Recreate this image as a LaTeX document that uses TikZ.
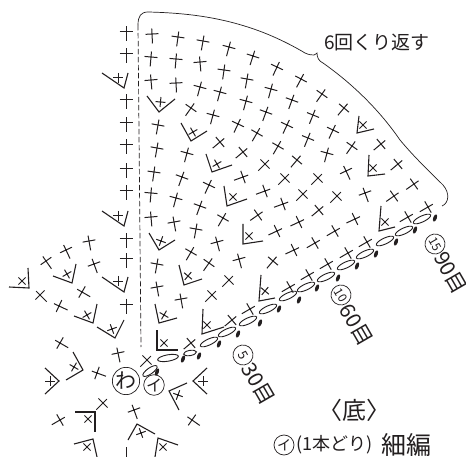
\documentclass[tikz,border=0pt]{standalone}
\usepackage{fontspec}
\setmainfont{Noto Sans CJK JP}
\definecolor{ink}{HTML}{231F20}
\newcommand\plm[3]{\begin{scope}[shift={(#1,#2)},rotate={0-(#3)}]\draw[stitch] (-6.5,0)--(6.5,0) (0,-5.5)--(0,9.5);\end{scope}}
\newcommand\smallx[3]{\begin{scope}[shift={(#1,#2)},rotate={0-(#3)}]\draw[stitch] (-5,0)--(5,0) (0,-5)--(0,5);\end{scope}}
\newcommand\fs[1]{\fontsize{#1}{#1}\selectfont}
\tikzset{
  stitch/.style={line width=1pt,draw=ink},
  vee/.style={line width=1.1pt,draw=ink,line join=miter},
  chainoval/.style={line width=0.9pt,draw=ink},
  knot/.style={fill=ink,draw=none},
  lab/.style={text=ink,inner sep=0pt,font=\fs{19}},
  ring/.style={circle,draw=ink,line width=0.7pt,inner sep=0pt,text=ink}
}
\begin{document}
\begin{tikzpicture}[x=1pt,y=-1pt]
\path[use as bounding box,fill=white] (0,0) rectangle (466,457);
% repeat bracket
\draw[line width=0.7pt,draw=ink] (138,25) .. controls (138,16) and (141,12) .. (148,12)
  .. controls (190,13) and (225,18) .. (262,32)
  .. controls (280,39) and (295,47) .. (305,53)
  .. controls (309,55) and (312,55) .. (314,55)
  .. controls (316,55) and (316,53) .. (317,53)
  .. controls (317,58) and (319,61) .. (323,63)
  .. controls (350,82) and (378,108) .. (400,140)
  .. controls (415,158) and (430,172) .. (443,185)
  .. controls (450,193) and (449,203) .. (442,206);
% dashed centre line
\coordinate (dashtop) at (138,25);
\coordinate (dashend) at (141,347);
\draw[line width=0.7pt,draw=ink,dash pattern=on 5.5pt off 2.5pt] (dashtop) -- (dashend);
% plain stitches
\foreach \x/\y in {126/32,126/54,126/100,126/123,126/145,126/169,126/191,126/239,126/259,126/304}{\plm{\x}{\y}{0}}
\foreach \x/\y/\r in {
152/34/-3,151/57/5,151/80/-5,158/125/10,157/148/10,154/172/8,151/193/5,151/217/-5,157/264/10,157/287/-10,
178/37/8,176/59/5,176/83/-3,191/108/35,187/153/15,182/177/20,176/198/15,174/222/-10,
203/41/10,229/47/15,253/56/18,277/67/25,301/79/28,322/94/35,344/108/40,
200/62/-5,224/70/8,247/79/10,271/89/15,292/100/20,313/115/22,333/130/25,
200/87/15,220/92/15,246/101/15,266/112/20,287/125/25,308/138/22,327/153/15,
213/115/15,238/124/25,257/133/30,278/146/30,297/160/40,318/178/45,352/146/35,381/144/50,
220/142/50,243/152/50,265/164/45,285/178/45,303/194/45,319/210/50,346/171/-25,398/164/50,
209/185/25,243/177/70,265/191/70,283/204/70,299/222/65,315/243/60,337/196/45,365/193/-20,
200/206/20,223/218/30,258/215/55,277/231/65,294/250/65,335/231/60,355/219/65,394/196/55,414/184/55,
196/229/10,217/242/-15,239/259/-15,273/261/40,191/252/30,209/263/35,229/280/45,212/295/45,181/299/-10,
147/360/45,191/343/50,232/320/50,250/309/60,290/287/60,309/275/60,328/264/60,348/253/60,367/242/60,408/217/60,428/207/60,
89/241/-10,66/250/-25,46/261/-35,94/264/-20,40/295/-45,82/292/-60,59/306/-65,60/343/-60,118/353/-12,97/373/-70,
103/403/45,134/410/-20,60/420/60,192/420/-55}{\plm{\x}{\y}{\r}}
% increase stitches
\foreach \vx/\vy/\ax/\ay/\bx/\by/\cx/\cy/\r in {
124/88/102/73/128/73/118/78/0,
124/226/102/211/128/211/118/216/0,
124/292/102/277/128/277/118/281/0,
159/112/147/96/175/99/160.5/102/5,
191/141/181/123/207/131/193/132/60,
212/172/206/154/232/165/217/164/60,
227/206/224/186/247/199/233/197/45,
243/244/243/224/263/241/249/236/45,
184/285/179/265/202/279/188/276/40,
159/250/149/233/175/240/161/241/20,
159/323/155/304/177/318/164/315/30,
157/350/157/330/178/350/164/343/45,
202/334/203/309/224/327/207/325/45,
259/301/261/275/275/298/265/291/40,
357/133/359/116/374/129/363/125/45,
368/176/369/155/385/174/373/168/45,
379/231/381/206/395/227/385/222/45,
29/288/28/268/9/287/22/281/-45,
72/283/76/264/53/276/67/274/-30,
93/323/97/304/74/316/87/315/-30,
115/338/124/320/97/327/112/329/-20,
83/370/73/352/66/380/74/367/-60,
59/381/45/368/45/394/50/381/0,
95/412/75/412/95/432/88/419/-45,
93/439/74/444/97/457/87/447/-45,
137/424/128/440/155/434/141/433/-20,
158/438/155/457/178/445/163/447/-45,
169/391/187/383/179/410/178/395/-70,
193/381/207/368/207/394/203/381/0}{
  \draw[vee] (\ax,\ay)--(\vx,\vy)--(\bx,\by);
  \smallx{\cx}{\cy}{\r}
}
% lone stem at the lower edge
\coordinate (stema) at (126,447);
\coordinate (stemb) at (126,457);
\draw[stitch] (stema)--(stemb);
% chain row
\foreach \x/\y/\r/\a/\b in {
150/371/35/8.5/3,168/358/10/10.5/3.2,190/353/10/6.5/2.6,209/342/25/9.5/3,227/332/25/9.5/3,
248/321/25/9.5/3,268/309/25/9.5/3,288/296/25/9.5/3,306/287/25/9.5/3,326/277/25/9.5/3,
346/265/25/9.5/3,365/254/25/9.5/3,385/241/25/9.5/3,404/231/25/9.5/3,422/219/25/9.5/3}{
  \draw[chainoval,rotate around={\r:(\x,\y)}] (\x,\y) ellipse [x radius=\a,y radius=\b];
}
\foreach \x/\y in {157/372,183/359,199/356,219/344,238/334,260/323,279/309,299/300,317/288,338/278,357/266,376/254,396/242,415/230,435/218}{
  \fill[knot,rotate around={70:(\x,\y)}] (\x,\y) ellipse [x radius=3.8,y radius=1.8];
}
% centre rings
\node[ring,minimum size=27pt,font=\fs{21}] (wa) at (126,381) {わ};
\node[ring,minimum size=19.5pt,font=\fs{16}] (iro) at (154,385) {イ};
% labels
\node[lab,anchor=west] (rep) at (324,43) {6回くり返す};
\node[ring,rotate=-60,minimum size=20pt,font=\fs{12}] (c15) at (435,244) {15};
\node[lab,rotate=-60,font=\fs{21}] (t90) at (450.5,273) {90目};
\node[ring,rotate=-60,minimum size=20pt,font=\fs{12}] (c10) at (341,295) {10};
\node[lab,rotate=-60,font=\fs{21}] (t60) at (356,325) {60目};
\node[ring,rotate=-60,minimum size=20pt,font=\fs{13}] (c5) at (243,355) {5};
\node[lab,rotate=-60,font=\fs{21}] (t30) at (258,384) {30目};
\node[lab,font=\fs{24}] (soko) at (354,410) {〈底〉};
\node[ring,minimum size=20pt,font=\fs{14}] (ci) at (284,445) {イ};
\node[lab,anchor=west,font=\fs{18}] (one) at (296,445) {(1本どり)};
\node[lab,anchor=west,font=\fs{25}] (sai) at (381,445) {細編};
\end{tikzpicture}
\end{document}
